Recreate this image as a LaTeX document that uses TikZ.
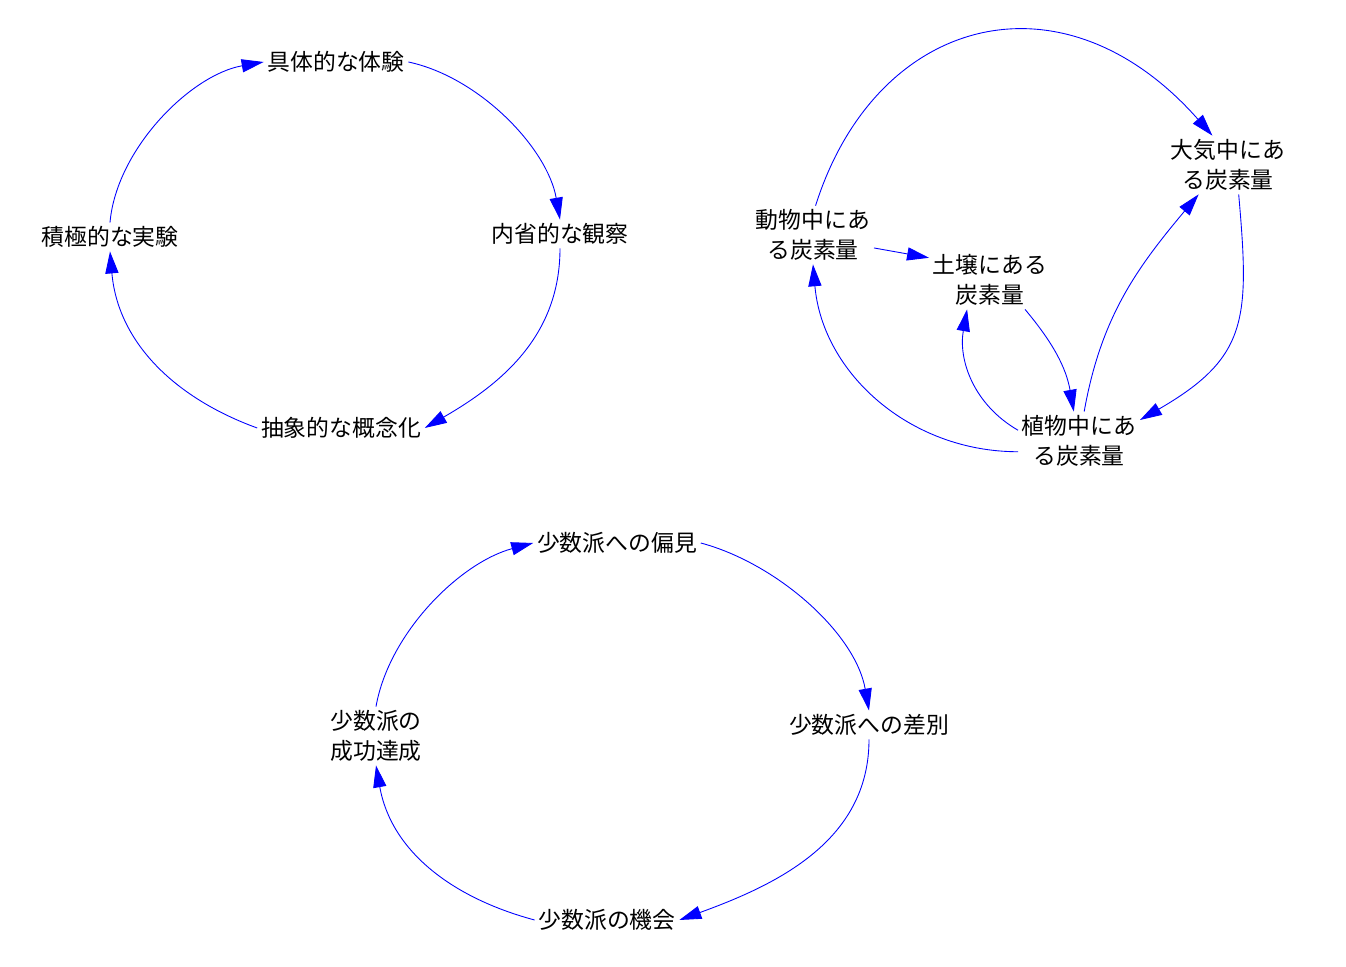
\documentclass[tikz,border=0pt]{standalone}
\usepackage{fontspec}
\newfontfamily\jpfont{Noto Sans CJK JP}
\usetikzlibrary{arrows.meta}
\tikzstyle{var} = [align=center, inner sep=2pt, font=\jpfont\fontsize{13pt}{17pt}\selectfont]
\tikzstyle{arrow} = [blue, line width=0.5pt, ->, >={Triangle[length=12.5pt, width=7.5pt]}]

\begin{document}
\begin{tikzpicture}[x=0.02cm, y=0.02cm]
\useasboundingbox (0,0) rectangle (1346,967);

% learning cycle
\node (concreteExp) [var] at (336,905) {具体的な体験};
\node (reflectObs) [var] at (560,733) {内省的な観察};
\node (abstractConc) [var] at (341,539) {抽象的な概念化};
\node (activeExp) [var] at (110,730) {積極的な実験};

\draw [arrow] (concreteExp.east) to[out=-12, in=100, looseness=0.85] (reflectObs.north);
\draw [arrow] (reflectObs.south) to[out=-90, in=30] (abstractConc.east);
\draw [arrow] (abstractConc.west) to[out=160, in=-85] (activeExp.south);
\draw [arrow] (activeExp.north) to[out=85, in=-170, looseness=0.85] (concreteExp.west);

% carbon cycle
\node (animalC) [var] at (813,732) {動物中にあ\\る炭素量};
\node (soilC) [var] at (990,687) {土壌にある\\炭素量};
\node (atmosC) [var] at (1228,802) {大気中にあ\\る炭素量};
\node (plantC) [var] at (1079,526) {植物中にあ\\る炭素量};

\draw [arrow] (animalC.85) .. controls +(60,190) and +(-150,170) .. (atmosC.118);
\draw [arrow] (animalC.-12) -- (soilC.160);
\draw [arrow] (soilC.-40) to[out=-50, in=100] (plantC.100);
\draw [arrow] (plantC.80) to[out=80, in=-130] (atmosC.-135);
\draw [arrow] (atmosC.-70) to[out=-85, in=30, looseness=1.3] (plantC.19);
\draw [arrow] (plantC.190) to[out=180, in=-85] (animalC.south);
\draw [arrow] (plantC.170) to[out=150, in=-100] (soilC.-128);

% minority cycle
\node (prejudice) [var] at (617,424) {少数派への偏見};
\node (discrim) [var] at (869,242) {少数派への差別};
\node (opportun) [var] at (607,47) {少数派の機会};
\node (success) [var] at (376,231) {少数派の\\成功達成};

\draw [arrow] (prejudice.east) to[out=-15, in=100, looseness=0.85] (discrim.north);
\draw [arrow] (discrim.south) to[out=-90, in=20] (opportun.east);
\draw [arrow] (opportun.west) to[out=165, in=-80] (success.south);
\draw [arrow] (success.north) to[out=80, in=-165, looseness=0.85] (prejudice.west);

\end{tikzpicture}
\end{document}
